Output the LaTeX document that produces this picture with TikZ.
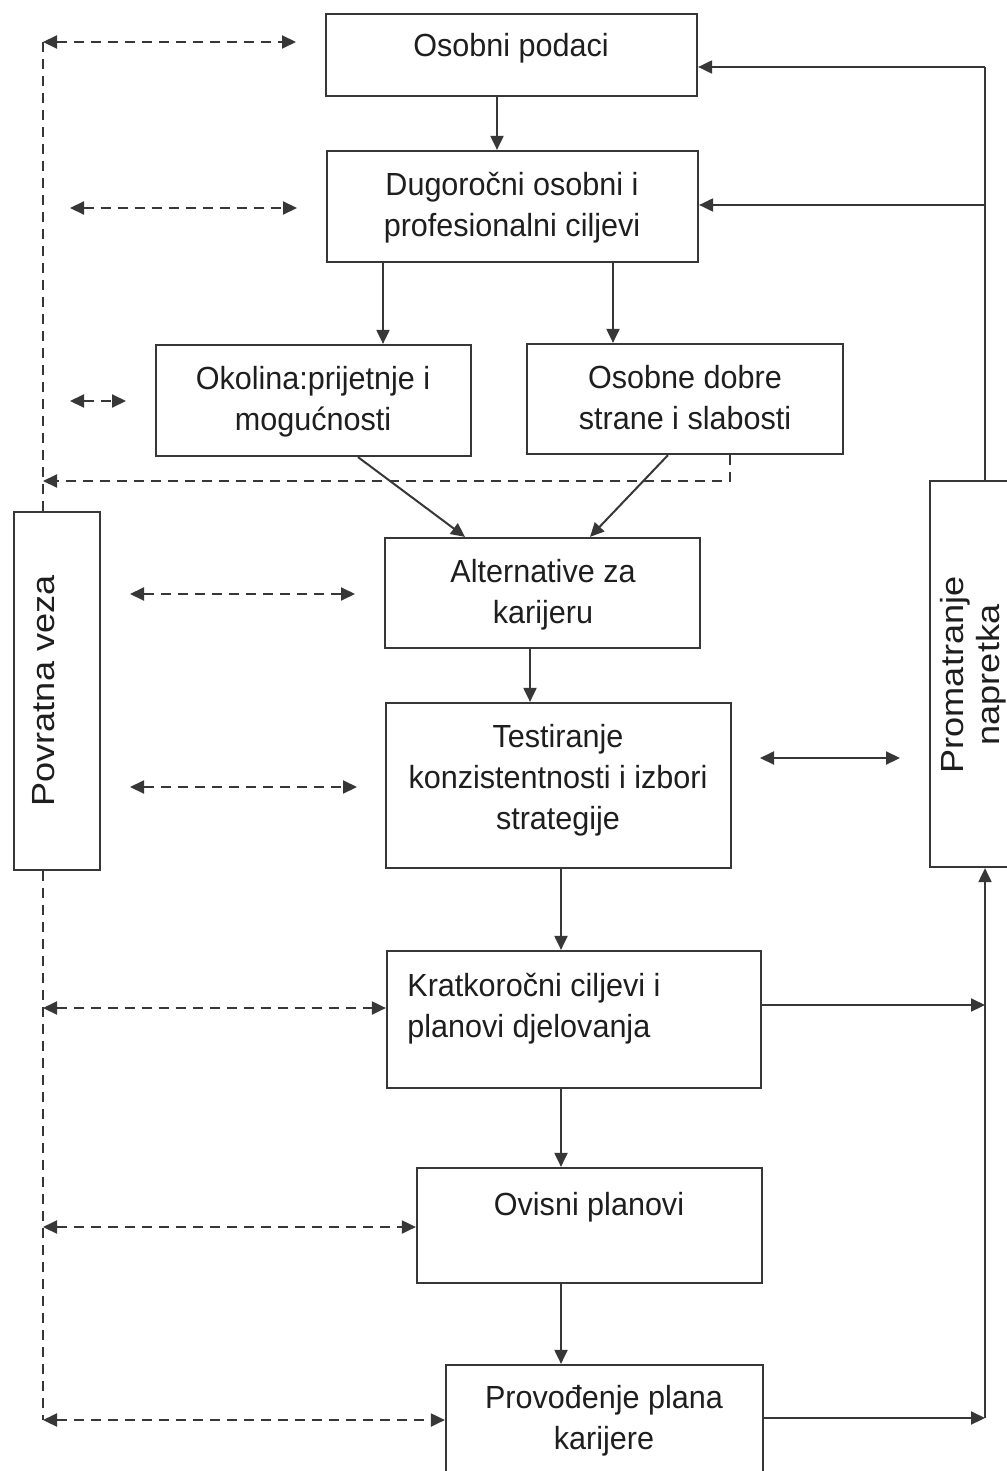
\documentclass[tikz,border=0pt]{standalone}
\usepackage{fontspec}
\setmainfont{Liberation Sans}[FakeStretch=0.955]
\newfontfamily\rotfont{Liberation Sans}[FakeStretch=1.13]
\usetikzlibrary{arrows.meta,fit}
\definecolor{ink}{RGB}{55,55,55}
\definecolor{txtc}{RGB}{30,30,30}
\begin{document}
\begin{tikzpicture}[x=0.5pt,y=-0.5pt,
  box/.style={draw=ink, line width=1.1pt, inner sep=0pt, rectangle},
  txt/.style={font=\fontsize{16}{20.5}\selectfont, text=txtc, inner sep=0pt, align=center, anchor=north},
  rtxt/.style={font=\rotfont\fontsize{16}{18}\selectfont, text=txtc, inner sep=0pt, align=center, anchor=center, rotate=90},
  ln/.style={draw=ink, line width=1pt},
  tip/.tip={Triangle[length=7pt,width=6.5pt]},
  arr/.style={ln, -tip},
  darr/.style={ln, tip-tip},
  dsh/.style={ln, dash pattern=on 5pt off 3.5pt},
]
\useasboundingbox (0,0) rectangle (1006,1471);

% boxes
\node[box, fit={(326,14) (697,96)}] (osob) {};
\node[box, fit={(327,151) (698,262)}] (dug) {};
\node[box, fit={(156,345) (471,456)}] (okol) {};
\node[box, fit={(527,344) (843,454)}] (osdob) {};
\node[box, fit={(385,538) (700,648)}] (alt) {};
\node[box, fit={(386,703) (731,868)}] (test) {};
\node[box, fit={(387,951) (761,1088)}] (krat) {};
\node[box, fit={(417,1168) (762,1283)}] (ovis) {};
\node[box, fit={(446,1365) (763,1495)}] (prov) {};
\node[box, fit={(14,512) (100,870)}] (povr) {};
\node[box, fit={(930,481) (1040,867)}] (prom) {};

% texts
\node[txt] (tosob) at (511,33) {Osobni podaci};
\node[txt] (tdug) at (512,172) {Dugoročni osobni i\\profesionalni ciljevi};
\node[txt] (tokol) at (313,366) {Okolina:prijetnje i\\mogućnosti};
\node[txt] (tosdob) at (685,365) {Osobne dobre\\strane i slabosti};
\node[txt] (talt) at (543,559) {Alternative za\\karijeru};
\node[txt] (ttest) at (558,724) {Testiranje\\konzistentnosti i izbori\\strategije};
\node[txt, anchor=north west, align=left] (tkrat) at (407,973) {Kratkoročni ciljevi i\\planovi djelovanja};
\node[txt] (tovis) at (589,1192) {Ovisni planovi};
\node[txt] (tprov) at (604,1385) {Provođenje plana\\karijere};
\node[rtxt] (tpovr) at (44,691) {Povratna veza};
\node[rtxt] (tprom) at (973,675) {Promatranje\\napretka};

% column / row coordinates
\coordinate (cA) at (497,0);
\coordinate (cB) at (383,0);
\coordinate (cC) at (613,0);
\coordinate (cD) at (530,0);
\coordinate (cE) at (561,0);
\coordinate (d1) at (358,0);
\coordinate (d2) at (465,0);
\coordinate (d3) at (668,0);
\coordinate (d4) at (590,0);

% main flow
\draw[arr] (osob.south -| cA) -- (dug.north -| cA);
\draw[arr] (dug.south -| cB) -- (okol.north -| cB);
\draw[arr] (dug.south -| cC) -- (osdob.north -| cC);
\draw[arr] (okol.south -| d1) -- (alt.north -| d2);
\draw[arr] (osdob.south -| d3) -- (alt.north -| d4);
\draw[arr] (alt.south -| cD) -- (test.north -| cD);
\draw[arr] (test.south -| cE) -- (krat.north -| cE);
\draw[arr] (krat.south -| cE) -- (ovis.north -| cE);
\draw[arr] (ovis.south -| cE) -- (prov.north -| cE);

% right side (solid)
\coordinate (r1) at (985,67);
\coordinate (r2) at (985,205);
\coordinate (r3) at (985,1005);
\coordinate (r4) at (985,1418);
\draw[ln] (prom.north -| r1) -- (r1);
\draw[arr] (r1) -- (osob.east |- r1);
\draw[arr] (r2) -- (dug.east |- r2);
\draw[arr] (krat.east |- r3) -- (r3);
\draw[arr] (prov.east |- r4) -- (r4);
\draw[arr] (r4) -- (prom.south -| r4);
\coordinate (s1) at (760,758);
\coordinate (s2) at (900,758);
\draw[darr] (s1) -- (s2);

% left side (dashed)
\coordinate (cL) at (43,0);
\coordinate (L0) at (43,42);
\coordinate (L0e) at (296,42);
\draw[dsh] (L0) -- (povr.north -| L0);
\draw[dsh, tip-tip] (L0) -- (L0e);
\coordinate (h1) at (70,208);
\coordinate (h1e) at (297,208);
\draw[dsh, tip-tip] (h1) -- (h1e);
\coordinate (h2) at (70,401);
\coordinate (h2e) at (126,401);
\draw[dsh, tip-tip] (h2) -- (h2e);
\coordinate (q1) at (730,481);
\draw[dsh, -tip] (osdob.south -| q1) -- (q1) -- (cL |- q1);
\coordinate (h3) at (130,594);
\coordinate (h3e) at (355,594);
\draw[dsh, tip-tip] (h3) -- (h3e);
\coordinate (h4) at (130,787);
\coordinate (h4e) at (357,787);
\draw[dsh, tip-tip] (h4) -- (h4e);
\coordinate (k1) at (43,1008);
\coordinate (k2) at (43,1227);
\coordinate (k3) at (43,1420);
\draw[dsh] (povr.south -| cL) -- (k3);
\draw[dsh, tip-tip] (k1) -- (krat.west |- k1);
\draw[dsh, tip-tip] (k2) -- (ovis.west |- k2);
\draw[dsh, tip-tip] (k3) -- (prov.west |- k3);
\end{tikzpicture}
\end{document}
